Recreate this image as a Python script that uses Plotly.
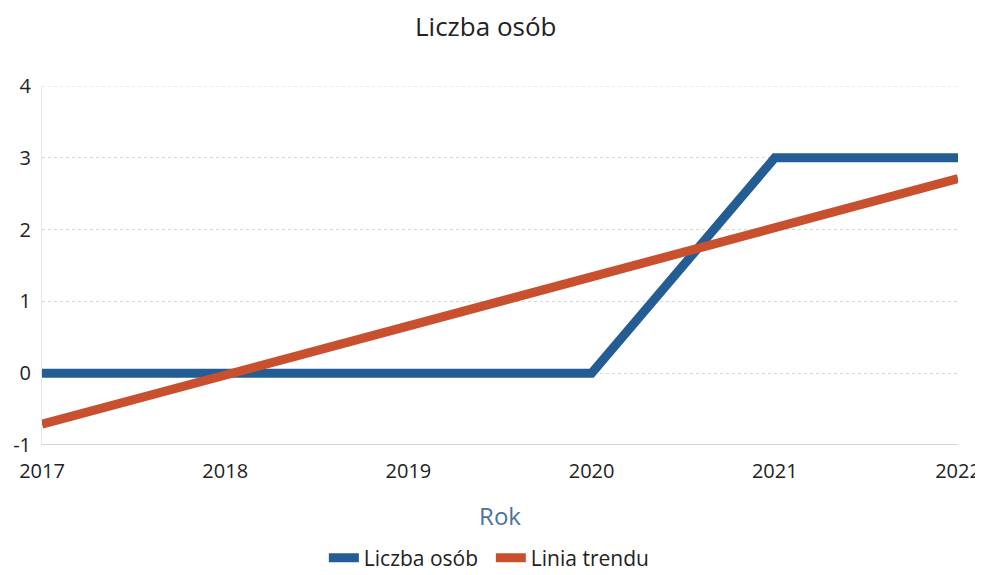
import plotly.graph_objects as go

years = [2017, 2018, 2019, 2020, 2021, 2022]
liczba_osob = [0, 0, 0, 0, 3, 3]
linia_trendu = [-0.71, -0.03, 0.66, 1.34, 2.03, 2.71]
y_ticks = [-1, 0, 1, 2, 3, 4]
y_labels = ['-1', '0', '1', '2', '3', '4']

FONT = 'Open Sans, Liberation Sans, sans-serif'

fig = go.Figure()
fig.add_trace(go.Scatter(
    x=years, y=liczba_osob, mode='lines', name='Liczba osób',
    line=dict(color='#235d93', width=9),
))
fig.add_trace(go.Scatter(
    x=years, y=linia_trendu, mode='lines', name='Linia trendu',
    line=dict(color='#c9502f', width=9),
))

# page body has an 8px margin, so the figure is a bit smaller than the window
fig.update_layout(
    width=975, height=567,
    margin=dict(l=34, r=25, t=78, b=130),
    paper_bgcolor='white', plot_bgcolor='white',
    font=dict(family=FONT, color='#222222', size=20),
    title=dict(text='Liczba osób', x=0.49, xanchor='center', y=0.966, yanchor='middle',
               font=dict(size=26, color='#222222')),
    showlegend=True,
    legend=dict(orientation='h', x=0.49, xanchor='center',
                yref='container', y=0.03, yanchor='middle',
                font=dict(size=21), itemwidth=30,
                entrywidth=122, entrywidthmode='pixels'),
)
fig.update_xaxes(
    range=[2017, 2022], tickvals=years, ticktext=[str(y) for y in years],
    showgrid=False, zeroline=False, showline=False, ticks='',
    tickfont=dict(size=20), ticklabelstandoff=12, automargin=False,
    title=dict(text='Rok', font=dict(size=24, color='#4a72a0'), standoff=25),
)
fig.update_yaxes(
    range=[-1, 4], tickvals=y_ticks, ticktext=y_labels,
    showgrid=True, gridcolor='#d8d8d8', griddash='dot', gridwidth=1,
    zeroline=False, showline=True, linecolor='#dde8f3', ticks='',
    tickfont=dict(size=20), ticklabelstandoff=6, automargin=False,
)
fig.add_shape(type='line', xref='paper', x0=0, x1=1, yref='y', y0=-1, y1=-1,
              line=dict(color='#aaaaaa', width=1), layer='below')
fig.add_shape(type='line', xref='paper', x0=0, x1=1, yref='y', y0=4, y1=4,
              line=dict(color='#d8d8d8', width=1, dash='dot'), layer='below')

fig.write_html('out.html')
